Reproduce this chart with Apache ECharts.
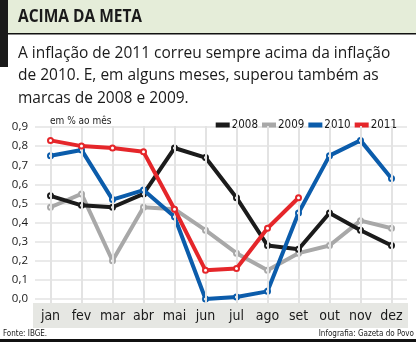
<!DOCTYPE html>
<html><head><meta charset="utf-8">
<script src="https://cdn.jsdelivr.net/npm/echarts@6/dist/echarts.min.js"></script>
<style>html,body{margin:0;padding:0;background:#fff}#c{width:416px;height:342px}</style>
</head><body><div id="c"></div>
<script>
const months = ['jan','fev','mar','abr','mai','jun','jul','ago','set','out','nov','dez'];
const years = ['2008','2009','2010','2011'];
const s2008 = [0.54,0.49,0.48,0.55,0.79,0.74,0.53,0.28,0.26,0.45,0.36,0.28];
const s2009 = [0.48,0.55,0.20,0.48,0.47,0.36,0.24,0.15,0.24,0.28,0.41,0.37];
const s2010 = [0.75,0.78,0.52,0.57,0.43,0.00,0.01,0.04,0.45,0.75,0.83,0.63];
const s2011 = [0.83,0.80,0.79,0.77,0.47,0.15,0.16,0.37,0.53];
const yMin = 0, yMax = 0.9, yStep = 0.1;
const colors = ['#1b1b1b','#a8a8a8','#0b5cab','#e5262a'];

const chart = echarts.init(document.getElementById('c'), null, {renderer:'canvas'});
const cond = '"DejaVu Sans Condensed","DejaVu Sans",sans-serif';
function mk(name, data, color, z){
  return {name, type:'line', data, z, color,
    lineStyle:{width:4, color},
    symbol:'emptyCircle', symbolSize:5,
    itemStyle:{color, borderWidth:1.5},
    emphasis:{disabled:true}};
}
const vals = [s2008, s2009, s2010, s2011];
const zs = [3,2,4,5];
const series = years.map((y,i)=>mk(y, vals[i], colors[i], zs[i]));
series.unshift({type:'line', data:[], silent:true,
  markLine:{silent:true, symbol:'none', label:{show:false},
    lineStyle:{color:'#e3e3e3', width:2, type:'solid'},
    data: months.map(m=>[{xAxis:m, y:126},{xAxis:m, y:303}])}, z:1});
chart.setOption({
  animation:false,
  grid:{left:35, right:9, top:127, bottom:43},
  graphic:[
    {type:'rect', shape:{x:0,y:0,width:416,height:33}, style:{fill:'#e5edd9'}, z:-10},
    {type:'rect', shape:{x:0,y:33,width:416,height:1.5}, style:{fill:'#111'}, z:-9},
    {type:'rect', shape:{x:0,y:0,width:8,height:67}, style:{fill:'#1a1a1a'}, z:-8},
    {type:'text', x:18, y:8, scaleX:0.86, style:{text:'ACIMA DA META', font:'bold 18px "Open Sans",sans-serif', fill:'#1a1a1a'}},
    {type:'text', left:18, top:42, style:{text:'A inflação de 2011 correu sempre acima da inflação\nde 2010. E, em alguns meses, superou também as\nmarcas de 2008 e 2009.', font:'15.5px "Open Sans",sans-serif', lineHeight:22.5, fill:'#1a1a1a'}},
    {type:'text', left:50, top:116, style:{text:'em % ao mês', font:'10px '+cond, fill:'#1a1a1a'}},
    {type:'rect', shape:{x:33,y:303,width:375,height:25}, style:{fill:'#e6e7e3'}, z:-5},
    {type:'text', left:3, top:330, style:{text:'Fonte: IBGE.', font:'8px '+cond, fill:'#1a1a1a'}},
    {type:'text', right:2, top:330, style:{text:'Infografia: Gazeta do Povo', font:'8px '+cond, fill:'#1a1a1a'}},
    {type:'rect', shape:{x:0,y:339,width:416,height:3}, style:{fill:'#111'}, z:-5}
  ],
  legend:{right:14, top:114, itemWidth:14, itemHeight:5, itemGap:4, icon:'rect',
    itemStyle:{borderWidth:0},
    textStyle:{fontFamily:cond, fontSize:11.5, color:'#1a1a1a', padding:[0,0,0,-3]},
    data: years},
  xAxis:{type:'category', data:months, boundaryGap:true,
    axisLine:{show:false}, axisTick:{show:false}, splitLine:{show:false},
    axisLabel:{interval:0, margin:10, fontFamily:cond, fontSize:14, color:'#1a1a1a'}},
  yAxis:{type:'value', min:yMin, max:yMax, interval:yStep,
    axisLine:{show:false}, axisTick:{show:false},
    splitLine:{lineStyle:{color:'#e3e3e3', width:1.5}},
    axisLabel:{margin:7, fontFamily:'"Open Sans",sans-serif', fontSize:11.5, color:'#1a1a1a',
      formatter:v=>v.toFixed(1).replace('.',',')}},
  series
});
</script></body></html>
